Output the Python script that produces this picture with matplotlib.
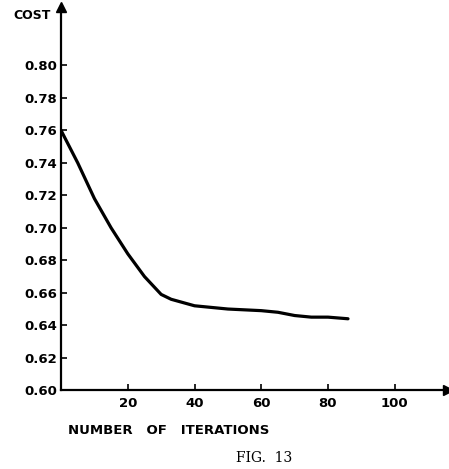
import matplotlib
matplotlib.use('Agg')
import matplotlib.pyplot as plt

# data
iterations = [0, 5, 10, 15, 20, 25, 30, 33, 40, 50, 60, 65, 70, 75, 80, 86]
cost = [0.760, 0.740, 0.718, 0.700, 0.684, 0.670, 0.659, 0.656, 0.652,
        0.650, 0.649, 0.648, 0.646, 0.645, 0.645, 0.644]
x_ticks = [20, 40, 60, 80, 100]
y_ticks = [0.60, 0.62, 0.64, 0.66, 0.68, 0.70, 0.72, 0.74, 0.76, 0.78, 0.80]

fig = plt.figure(figsize=(4.49, 4.69), dpi=100)
ax = fig.add_axes([0.136, 0.168, 0.862, 0.817])

ax.plot(iterations, cost, color='black', lw=2.3, solid_capstyle='round')

ax.set_xlim(0, 116)
ax.set_ylim(0.60, 0.836)

for side in ['top', 'right']:
    ax.spines[side].set_visible(False)
for side in ['left', 'bottom']:
    ax.spines[side].set_linewidth(1.6)

# axis arrows
ax.plot(1, 0, '>k', ms=7, transform=ax.transAxes, clip_on=False)
ax.plot(0, 1, '^k', ms=7, transform=ax.transAxes, clip_on=False)

ax.set_xticks(x_ticks)
ax.set_yticks(y_ticks)
ax.set_yticklabels(['%.2f' % v for v in y_ticks])
ax.tick_params(direction='in', length=4, width=1.2, labelsize=9.5)
for lbl in ax.get_xticklabels() + ax.get_yticklabels():
    lbl.set_fontweight('bold')
ax.tick_params(axis='y', pad=3)
ax.tick_params(axis='x', pad=5)

fig.text(0.029, 0.966, 'COST', fontsize=9, fontweight='bold', ha='left', va='center')
fig.text(0.151, 0.083, 'NUMBER   OF   ITERATIONS', fontsize=9.5, fontweight='bold',
         ha='left', va='center')
fig.text(0.588, 0.023, 'FIG.  13', fontsize=10, family='DejaVu Serif', ha='center', va='center')

fig.savefig('out.png', dpi=100)
